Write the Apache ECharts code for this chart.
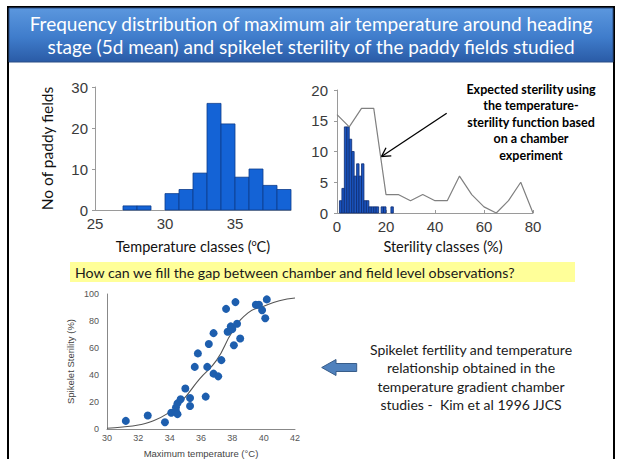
<!DOCTYPE html>
<html>
<head>
<meta charset="utf-8">
<script src="https://cdn.jsdelivr.net/npm/echarts@6/dist/echarts.min.js"></script>
<style>
html,body{margin:0;padding:0;background:#fff}
#main{width:618px;height:459px}
</style>
</head>
<body>
<div id="main"></div>
<script>
// left chart: max air temperature classes (lower edge, 1 degC wide) and no of paddy fields
var tempClasses = [27, 28, 29, 30, 31, 32, 33, 34, 35, 36, 37, 38];
var tempCounts  = [1, 1, 0, 4, 5, 9, 26, 21, 8, 10, 6, 5];

// right chart: observed sterility classes (lower edge, 1 % wide) and no of fields
var sterClasses = [1, 2, 3, 4, 5, 6, 7, 8, 9, 10, 11, 12, 13, 14, 15, 16, 17, 18, 19, 20, 21, 22];
var sterCounts  = [2, 4, 14, 14, 12, 10, 6, 8, 6, 8, 2, 2, 1, 1, 1, 1, 0, 1, 1, 0, 0, 1];

// expected sterility from the chamber temperature-sterility function
var expectedX = [0, 5, 10, 15, 20, 25, 30, 35, 40, 45, 50, 55, 60, 65, 70, 75, 80];
var expectedY = [16, 14, 17, 17, 3, 3, 2, 3, 2, 2, 6, 3, 1, 0, 2, 5, 0];

// chamber study (Kim et al 1996): max temperature vs spikelet sterility
var chamberTemp = [31.2, 32.6, 33.7, 34.1, 34.4, 34.4, 34.5, 34.5, 34.7, 35.0, 35.3, 35.3, 35.6, 35.8,
                   36.3, 36.4, 36.5, 36.8, 36.8, 37.1, 37.3, 37.6, 37.7, 37.9, 38.0, 38.1, 38.2, 38.3,
                   38.5, 39.5, 39.7, 39.9, 40.1, 40.2];
var chamberSter = [6, 10, 5, 12, 13, 16, 19, 11, 22, 30, 23, 17, 46, 56,
                   24, 46, 63, 71, 41, 39, 51, 89, 72, 76, 74, 62, 94, 78,
                   67, 92, 92, 88, 82, 96];

// fitted curve
var fitTemp = [30, 31, 32, 32.7, 33.8, 34.8, 35.9, 37, 38, 39, 40, 41, 42];
var fitSter = [0.5, 1.5, 3, 5, 11, 21, 37, 51, 72, 86, 91, 95, 97];

var axisGray = '#9a9a9a';

function histItem(fill, stroke) {
    return function (params, api) {
        var x0 = api.value(0), x1 = api.value(1), y = api.value(2);
        var p0 = api.coord([x0, y]);
        var p1 = api.coord([x1, 0]);
        return {
            type: 'rect',
            shape: {x: p0[0], y: p0[1], width: p1[0] - p0[0], height: p1[1] - p0[1]},
            style: {fill: fill, stroke: stroke, lineWidth: 0.8}
        };
    };
}

var tempData = [];
for (let i = 0; i < tempClasses.length; i++) {
    if (tempCounts[i] > 0) tempData.push([tempClasses[i], tempClasses[i] + 1, tempCounts[i]]);
}
var sterData = [];
for (let i = 0; i < sterClasses.length; i++) {
    if (sterCounts[i] > 0) sterData.push([sterClasses[i], sterClasses[i] + 1, sterCounts[i]]);
}
var expectedData = expectedX.map(function (x, i) { return [x, expectedY[i]]; });
var chamberData = chamberTemp.map(function (x, i) { return [x, chamberSter[i]]; });
var fitData = fitTemp.map(function (x, i) { return [x, fitSter[i]]; });

var bigLabel = {color: '#3a3a3a', fontSize: 15, fontFamily: 'Liberation Sans'};
var smallLabel = {color: '#555', fontSize: 9, fontFamily: 'Liberation Sans'};

var myChart = echarts.init(document.getElementById('main'), null, {renderer: 'svg'});

var option = {
    animation: false,
    textStyle: {fontFamily: 'Liberation Sans'},
    grid: [
        {left: 95, top: 87, width: 196, height: 123},
        {left: 337, top: 90, width: 196, height: 123},
        {left: 107, top: 294, width: 188, height: 138}
    ],
    xAxis: [
        {
            gridIndex: 0, type: 'value', min: 25, max: 39, interval: 5,
            axisLine: {lineStyle: {color: axisGray}},
            axisTick: {show: false},
            splitLine: {show: false},
            axisLabel: Object.assign({showMaxLabel: false, margin: 6}, bigLabel),
            name: 'Temperature classes ({sup|o}C)',
            nameLocation: 'middle', nameGap: 28,
            nameTextStyle: {color: '#111', fontSize: 14.5, fontFamily: 'Lato',
                rich: {sup: {fontSize: 9, fontFamily: 'Lato', color: '#111', verticalAlign: 'bottom', padding: [0, 0, 8, 0]}}}
        },
        {
            gridIndex: 1, type: 'value', min: 0, max: 80, interval: 20,
            axisLine: {lineStyle: {color: axisGray}},
            axisTick: {show: true, inside: true, length: 3, lineStyle: {color: axisGray}},
            splitLine: {show: false},
            axisLabel: Object.assign({margin: 6}, bigLabel),
            name: 'Sterility classes (%)',
            nameLocation: 'middle', nameGap: 26,
            nameTextStyle: {color: '#111', fontSize: 14.5, fontFamily: 'Lato', padding: [0, 0, 0, 16]}
        },
        {
            gridIndex: 2, type: 'value', min: 30, max: 42, interval: 2,
            axisLine: {lineStyle: {color: '#888'}},
            axisTick: {show: false},
            splitLine: {show: false},
            axisLabel: Object.assign({margin: 4}, smallLabel),
            name: 'Maximum temperature (°C)',
            nameLocation: 'middle', nameGap: 19,
            nameTextStyle: {color: '#444', fontSize: 9.5}
        }
    ],
    yAxis: [
        {
            gridIndex: 0, type: 'value', min: 0, max: 30, interval: 10,
            axisLine: {show: true, lineStyle: {color: axisGray}},
            axisTick: {show: true, length: 3, lineStyle: {color: axisGray}},
            splitLine: {show: false},
            axisLabel: Object.assign({margin: 7}, bigLabel),
            name: 'No of paddy fields',
            nameLocation: 'middle', nameGap: 40,
            nameTextStyle: {color: '#111', fontSize: 15.5, fontFamily: 'Lato'}
        },
        {
            gridIndex: 1, type: 'value', min: 0, max: 20, interval: 5,
            axisLine: {show: true, lineStyle: {color: axisGray}},
            axisTick: {show: true, length: 3, lineStyle: {color: axisGray}},
            splitLine: {show: false},
            axisLabel: Object.assign({margin: 9}, bigLabel)
        },
        {
            gridIndex: 2, type: 'value', min: 0, max: 100, interval: 20,
            axisLine: {show: true, lineStyle: {color: '#888'}},
            axisTick: {show: false},
            splitLine: {show: false},
            axisLabel: Object.assign({margin: 8}, smallLabel),
            name: 'Spikelet Sterility (%)',
            nameLocation: 'middle', nameGap: 32,
            nameTextStyle: {color: '#444', fontSize: 9.5}
        }
    ],
    series: [
        {
            name: 'No of paddy fields', type: 'custom',
            xAxisIndex: 0, yAxisIndex: 0,
            renderItem: histItem('#1463d6', '#0c3c8c'),
            encode: {x: [0, 1], y: 2},
            data: tempData
        },
        {
            name: 'Observed sterility', type: 'custom',
            xAxisIndex: 1, yAxisIndex: 1,
            renderItem: histItem('#1b55c0', '#0e2c70'),
            encode: {x: [0, 1], y: 2},
            data: sterData
        },
        {
            name: 'Expected sterility', type: 'line',
            xAxisIndex: 1, yAxisIndex: 1,
            showSymbol: false, symbol: 'none',
            lineStyle: {color: '#808080', width: 1.2},
            data: expectedData,
            z: 3
        },
        {
            name: 'Fit', type: 'line',
            xAxisIndex: 2, yAxisIndex: 2,
            smooth: true, symbol: 'none',
            lineStyle: {color: '#555', width: 1.1},
            data: fitData
        },
        {
            name: 'Chamber', type: 'scatter',
            xAxisIndex: 2, yAxisIndex: 2,
            symbolSize: 8,
            itemStyle: {color: '#1d5eae', opacity: 1},
            data: chamberData,
            z: 4
        }
    ],
    graphic: [
        // slide frame
        {type: 'rect', shape: {x: 8, y: 7, width: 606, height: 470},
            style: {fill: 'none', stroke: '#000', lineWidth: 2}, z: 1},
        // title bar
        {type: 'rect', shape: {x: 9, y: 8, width: 604, height: 54},
            style: {
                fill: new echarts.graphic.LinearGradient(0, 0, 0, 1, [
                    {offset: 0, color: '#5b97de'},
                    {offset: 0.55, color: '#3f7ccb'},
                    {offset: 1, color: '#2a5ba6'}
                ]),
                stroke: '#2b4f86', lineWidth: 1
            }, z: 2},
        {type: 'text', x: 311, y: 23, z: 3,
            style: {text: 'Frequency distribution of maximum air temperature around heading',
                fill: '#fff', font: '19px Lato', textAlign: 'center', textVerticalAlign: 'middle'}},
        {type: 'text', x: 311, y: 46, z: 3,
            style: {text: 'stage (5d mean) and spikelet sterility of the paddy fields studied',
                fill: '#fff', font: '19px Lato', textAlign: 'center', textVerticalAlign: 'middle'}},
        // annotation on sterility chart
        {type: 'text', x: 531, y: 81, z: 3,
            style: {text: 'Expected sterility using\nthe temperature-\nsterility function based\non a chamber\nexperiment',
                fill: '#000', font: 'bold 12.5px Lato', lineHeight: 16.5, textAlign: 'center', textVerticalAlign: 'top'}},
        {type: 'line', z: 3, shape: {x1: 446.7, y1: 113.3, x2: 381.5, y2: 156.5},
            style: {stroke: '#000', lineWidth: 1.3}},
        {type: 'polyline', z: 3, shape: {points: [[386, 147.8], [381.5, 156.5], [391.3, 155.8]]},
            style: {stroke: '#000', lineWidth: 1.3, fill: 'none'}},
        // question band
        {type: 'rect', z: 1, shape: {x: 70, y: 262, width: 505, height: 20},
            style: {fill: '#ffff99'}},
        {type: 'text', x: 75, y: 272, z: 3,
            style: {text: 'How can we fill the gap between chamber and field level observations?',
                fill: '#1a1a1a', font: '14.2px Lato', textAlign: 'left', textVerticalAlign: 'middle'}},
        // block arrow
        {type: 'polygon', z: 3,
            shape: {points: [[321.7, 367.5], [336, 359.5], [336, 363.5], [356.7, 363.5], [356.7, 371.5], [336, 371.5], [336, 375.5]]},
            style: {fill: '#4f81bd', stroke: '#385d8a', lineWidth: 1}},
        {type: 'text', x: 471, y: 340, z: 3,
            style: {text: 'Spikelet fertility and temperature\nrelationship obtained in the\ntemperature gradient chamber\nstudies -  Kim et al 1996 JJCS',
                fill: '#1a1a1a', font: '14px Lato', lineHeight: 18.4, textAlign: 'center', textVerticalAlign: 'top'}}
    ]
};

myChart.setOption(option, true);
</script>
</body>
</html>
